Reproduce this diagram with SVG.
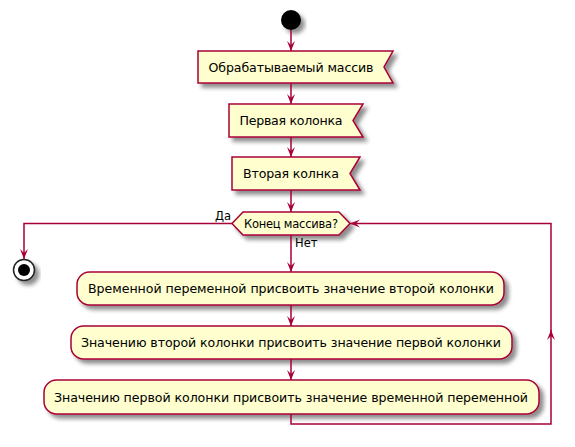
<svg xmlns="http://www.w3.org/2000/svg" width="575" height="447" viewBox="0 0 575 447">
<defs>
<filter id="sh" x="-20%" y="-20%" width="150%" height="160%">
<feGaussianBlur in="SourceAlpha" stdDeviation="2"/>
<feOffset dx="4" dy="4" result="b"/>
<feComponentTransfer><feFuncA type="linear" slope="0.45"/></feComponentTransfer>
<feMerge><feMergeNode/><feMergeNode in="SourceGraphic"/></feMerge>
</filter>
<marker id="ah" viewBox="0 0 10 10" refX="10" refY="5" markerWidth="10" markerHeight="10" markerUnits="userSpaceOnUse" orient="auto">
<path d="M10,5 L0,1 L4,5 L0,9 Z" fill="#A80036"/>
</marker>
</defs>
<style>
.n{fill:#FEFECE;stroke:#A80036;stroke-width:1.5;filter:url(#sh)}
.t{font-family:"DejaVu Sans",sans-serif;font-size:12.6px;fill:#000;text-anchor:middle}
.s{font-family:"DejaVu Sans",sans-serif;font-size:11.5px;fill:#000}
.c{fill:none;stroke:#A80036;stroke-width:1.5}
</style>
<g id="start"><circle cx="291" cy="20" r="10" fill="#000" filter="url(#sh)"/></g>
<g id="box1"><path class="n" d="M198,51 L393,51 L384,67 L393,83 L198,83 Z"/><text class="t" x="291" y="71.5" textLength="165">Обрабатываемый массив</text></g>
<g id="box2"><path class="n" d="M229,104 L363,104 L353,120.5 L363,137 L229,137 Z"/><text class="t" x="291" y="125" textLength="103">Первая колонка</text></g>
<g id="box3"><path class="n" d="M232,157 L360,157 L350,173.5 L360,190 L232,190 Z"/><text class="t" x="291" y="178" textLength="96">Вторая колнка</text></g>
<g id="cond"><path class="n" d="M232,223.5 L243,212 L339,212 L350,223.5 L339,235 L243,235 Z"/><text class="s" x="291" y="227.5" text-anchor="middle" textLength="94">Конец массива?</text></g>
<g id="end"><circle cx="24" cy="270" r="10.5" fill="#fff" stroke="#222" stroke-width="1.5" filter="url(#sh)"/><circle cx="24" cy="270" r="6" fill="#000"/></g>
<g id="act1"><rect class="n" x="77" y="272" width="427" height="33" rx="12.5"/><text class="t" x="291" y="293" textLength="406">Временной переменной присвоить значение второй колонки</text></g>
<g id="act2"><rect class="n" x="71" y="326" width="441" height="33" rx="12.5"/><text class="t" x="291" y="347" textLength="420">Значению второй колонки присвоить значение первой колонки</text></g>
<g id="act3"><rect class="n" x="44" y="380" width="495" height="34" rx="12.5"/><text class="t" x="291" y="401.5" textLength="474">Значению первой колонки присвоить значение временной переменной</text></g>
<g id="connectors">
<line class="c" x1="291" y1="30" x2="291" y2="51" marker-end="url(#ah)"/>
<line class="c" x1="291" y1="83" x2="291" y2="104" marker-end="url(#ah)"/>
<line class="c" x1="291" y1="137" x2="291" y2="157" marker-end="url(#ah)"/>
<line class="c" x1="291" y1="190" x2="291" y2="212" marker-end="url(#ah)"/>
<line class="c" x1="291" y1="235" x2="291" y2="272" marker-end="url(#ah)"/>
<line class="c" x1="291" y1="305" x2="291" y2="326" marker-end="url(#ah)"/>
<line class="c" x1="291" y1="359" x2="291" y2="380" marker-end="url(#ah)"/>
<polyline class="c" points="232,223.5 24,223.5 24,259" marker-end="url(#ah)"/>
<polyline class="c" points="291,414 291,424 551,424 551,330" marker-end="url(#ah)"/>
<polyline class="c" points="551,331 551,223.5 350,223.5" marker-end="url(#ah)"/>
<text class="s" x="215" y="220">Да</text>
<text class="s" x="295" y="247">Нет</text>
</g>
</svg>
